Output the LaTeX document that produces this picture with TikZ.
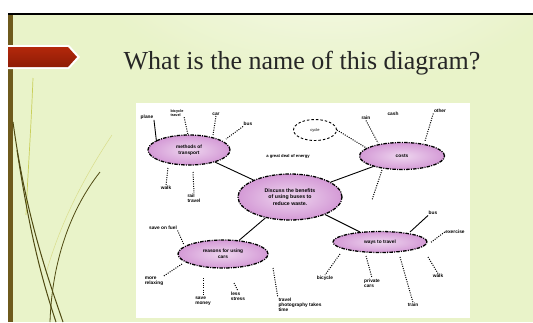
\documentclass[tikz,border=0pt]{standalone}
\usepackage{fontspec}
\setmainfont{Liberation Serif}
\newfontfamily\lblfont{Liberation Sans}
\usetikzlibrary{shapes.geometric,calc}
\definecolor{bgg}{HTML}{E9F3C9}
\definecolor{bglight}{HTML}{F4F9E2}
\definecolor{barbrown}{HTML}{6E5A1C}
\definecolor{arrowred}{HTML}{B3280B}
\definecolor{arrowdark}{HTML}{8E1C06}
\definecolor{pinkfill}{HTML}{D49AD6}
\definecolor{pinklight}{HTML}{EED6EF}
\definecolor{olivecurve}{HTML}{4F4A12}
\definecolor{yellowcurve}{HTML}{C9CF5A}
\tikzset{
  bubble/.style={ellipse, draw=black, line width=1.3pt, dash pattern=on 3.5pt off 1.2pt on 1pt off 1.2pt,
    inner color=pinklight, outer color=pinkfill, inner sep=0pt, align=center,
    font=\lblfont\bfseries\fontsize{4.8}{5.8}\selectfont},
  smallbubble/.style={ellipse, draw=black, line width=0.9pt, dash pattern=on 2.5pt off 2pt,
    inner sep=0pt, font=\lblfont\fontsize{4}{4.5}\selectfont},
  lbl/.style={inner sep=0.5pt, align=left, font=\lblfont\bfseries\fontsize{4.8}{5.2}\selectfont},
  solidlink/.style={draw=black, line width=0.9pt},
  dotlink/.style={draw=black, line width=1pt, dash pattern=on 1pt off 1.3pt},
  curve/.style={draw=olivecurve, line width=1pt},
}
\begin{document}
\begin{tikzpicture}[x=1pt,y=-1pt]
\useasboundingbox (0,0) rectangle (533,322);
% background
\fill[white] (0,0) rectangle (533,322);
\fill[bgg] (13,14) rectangle (533,322);
\begin{scope}
\clip (13,14) rectangle (533,322);
\shade[inner color=white, outer color=bgg, opacity=0.7] (330,-60) ellipse (260pt and 150pt);
\end{scope}
\fill[barbrown] (8,14) rectangle (13,322);
\draw[black, line width=1.2pt] (8,14) -- (533,14);
% decorative curves
\draw[yellowcurve, line width=0.7pt] (33,78) .. controls (31,130) and (28,170) .. (26,215);
\draw[yellowcurve!70, line width=0.5pt] (112,135) .. controls (82,180) and (60,225) .. (47,270);
\draw[curve] (13,122) .. controls (25,210) and (45,270) .. (63,322);
\draw[curve] (17,150) .. controls (30,235) and (42,280) .. (56,322);
\draw[curve, line width=0.8pt] (100,172) .. controls (70,210) and (52,262) .. (50,322);
% red arrow
\fill[white] (8,45) -- (69,45) -- (80,57) -- (69,69) -- (8,69) -- cycle;
\shade[top color=arrowred, bottom color=arrowdark] (8,47) -- (68,47) -- (77,57) -- (68,67) -- (8,67) -- cycle;
% title
\node[font=\fontsize{26}{29}\selectfont, inner sep=0pt, text=black!85] (title) at (302,63) {What is the name of this diagram?};
% inset picture
\fill[white] (136,103) rectangle (470,318);
% ellipses
\node[bubble, minimum width=104pt, minimum height=46pt, font=\lblfont\bfseries\fontsize{5.2}{6.6}\selectfont] (c) at (290,197) {Discuss the benefits\\of using buses to\\reduce waste.};
\node[bubble, minimum width=82pt, minimum height=30pt] (tl) at (189,150) {methods of\\transport};
\node[bubble, minimum width=85pt, minimum height=27pt] (tr) at (402,156) {costs};
\node[bubble, minimum width=90pt, minimum height=28pt] (bl) at (223,254) {reasons for using\\cars};
\node[bubble, minimum width=94pt, minimum height=21pt] (br) at (380,242) {ways to travel};
\node[smallbubble, minimum width=43pt, minimum height=21pt] (fuel) at (315,130) {cycle};
% main links
\draw[solidlink] (c) -- (tl);
\draw[solidlink] (c) -- (tr);
\draw[solidlink] (c) -- (bl);
\draw[solidlink] (c) -- (br);
% top-left labels
\node[lbl] (plane) at (147,117) {plane};
\node[lbl, font=\lblfont\bfseries\fontsize{3.8}{4.2}\selectfont] (bike) at (177,113) {bicycle\\travel};
\node[lbl] (car) at (216,114) {car};
\node[lbl] (bus1) at (248,124) {bus};
\node[lbl] (walk1) at (166,188) {walk};
\node[lbl] (rail) at (194,198) {rail\\travel};
\coordinate (tlb1) at (168,168);
\coordinate (tlb2) at (193,172);
\draw[solidlink] (plane.south east) -- ($(tl.north west)!0.25!(tl.west)$);
\draw[dotlink] (bike.south east) -- (188,135);
\draw[dotlink] (car.south) -- (213,135);
\draw[dotlink] (bus1.south west) -- (226,139);
\draw[dotlink] (tlb1) -- (walk1.north);
\draw[dotlink] (tlb2) -- (rail.north);
% top-right labels
\node[lbl] (rain) at (366,118) {rain};
\node[lbl] (cash) at (393,114) {cash};
\node[lbl] (other) at (440,111) {other};
\node[lbl, font=\lblfont\bfseries\fontsize{4.2}{4.6}\selectfont] (energy) at (288,156) {a great deal of energy};
\coordinate (trdown) at (372,200);
\draw[dotlink] (fuel.east) -- (368,149);
\draw[dotlink] (rain.south) -- (378,143);
\draw[dotlink] (other.south west) -- (425,141);
\draw[dotlink] (382,170) -- (trdown);
% bottom-left labels
\node[lbl] (savef) at (163,228) {save on fuel};
\node[lbl] (relax) at (154,281) {more\\relaxing};
\node[lbl] (money) at (203,301) {save\\money};
\node[lbl] (stress) at (238,296) {less\\stress};
\node[lbl] (photo) at (300,305) {travel\\photography takes\\time};
\draw[dotlink] (savef.south east) -- (184,245);
\draw[dotlink] (relax.north east) -- (182,264);
\draw[dotlink] (203,278) -- (money.north);
\draw[dotlink] (234,283) -- (stress.north);
\draw[dotlink] (273,268) -- (photo.north west);
% bottom-right labels
\node[lbl] (bus2) at (433,213) {bus};
\node[lbl] (exer) at (455,232) {exercise};
\node[lbl] (walk2) at (438,276) {walk};
\node[lbl] (bike2) at (325,278) {bicycle};
\node[lbl] (priv) at (372,283) {private\\cars};
\node[lbl] (train) at (413,305) {train};
\draw[solidlink] (bus2.south west) -- (410,232);
\draw[dotlink] (exer.west) -- (430,243);
\draw[dotlink] (428,257) -- (walk2.north);
\draw[dotlink] (340,254) -- (bike2.north);
\draw[dotlink] (366,256) -- (priv.north);
\draw[dotlink] (400,257) -- (train.north);
\end{tikzpicture}
\end{document}
